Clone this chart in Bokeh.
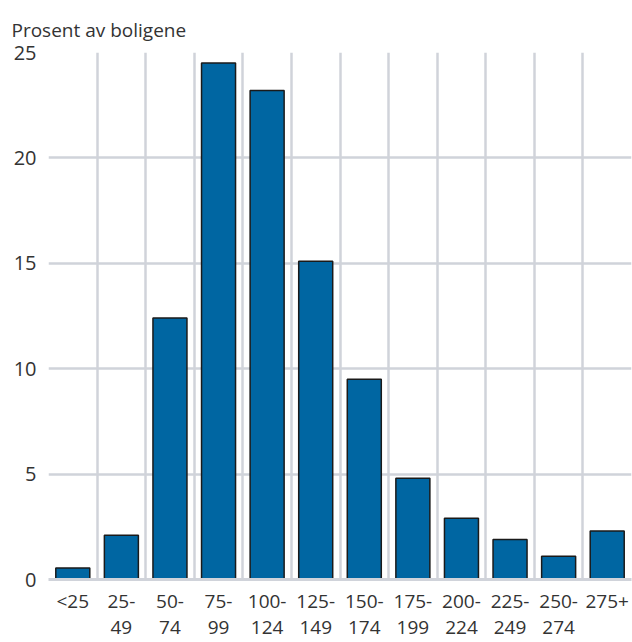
from bokeh.plotting import figure
from bokeh.models import Range1d, FixedTicker
from bokeh.embed import file_html
from bokeh.resources import INLINE

title_text = "Prosent av boligene"
categories = ["<25", "25-\n49", "50-\n74", "75-\n99", "100-\n124", "125-\n149", "150-\n174",
              "175-\n199", "200-\n224", "225-\n249", "250-\n274", "275+"]
values = [0.55, 2.1, 12.4, 24.5, 23.2, 15.1, 9.5, 4.8, 2.9, 1.9, 1.1, 2.3]
y_ticks = [0, 5, 10, 15, 20, 25]

FONT = "Open Sans"
TXT = "#333333"
GRID = "#d0d3da"

n = len(categories)
xs = [i + 0.5 for i in range(n)]

p = figure(width=632, height=642, output_backend="svg", toolbar_location=None,
           x_range=Range1d(0, n), y_range=Range1d(0, 25), title=title_text)
p.min_border_left = 48
p.min_border_right = 1
p.min_border_top = 52
p.min_border_bottom = 62
p.outline_line_color = None

p.title.text_font = FONT
p.title.text_font_size = "19px"
p.title.text_font_style = "normal"
p.title.text_color = TXT
p.title.offset = -37
p.title.standoff = 19

p.vbar(x=xs, top=values, width=0.7, bottom=0, fill_color="#0066a2",
       line_color="#1a1a1a", line_width=1.5)

p.xaxis.ticker = FixedTicker(ticks=xs)
p.xaxis.major_label_overrides = {x: c for x, c in zip(xs, categories)}
p.xaxis.major_tick_line_color = None
p.xaxis.minor_tick_line_color = None
p.xaxis.axis_line_color = GRID
p.xaxis.axis_line_width = 3
p.xaxis.major_label_text_font = FONT
p.xaxis.major_label_text_font_size = "19px"
p.xaxis.major_label_text_color = TXT
p.xaxis.major_label_text_line_height = 1.0
p.xaxis.major_label_standoff = 2

p.yaxis.ticker = FixedTicker(ticks=y_ticks)
p.yaxis.axis_line_color = None
p.yaxis.major_tick_line_color = None
p.yaxis.minor_tick_line_color = None
p.yaxis.major_label_text_font = FONT
p.yaxis.major_label_text_font_size = "20px"
p.yaxis.major_label_text_color = TXT
p.yaxis.major_label_standoff = 6

p.xgrid.ticker = FixedTicker(ticks=list(range(n + 1)))
p.xgrid.grid_line_color = GRID
p.xgrid.grid_line_width = 2.5
p.ygrid.grid_line_color = GRID
p.ygrid.grid_line_width = 2.5

open("out.html", "w").write(file_html(p, INLINE))
